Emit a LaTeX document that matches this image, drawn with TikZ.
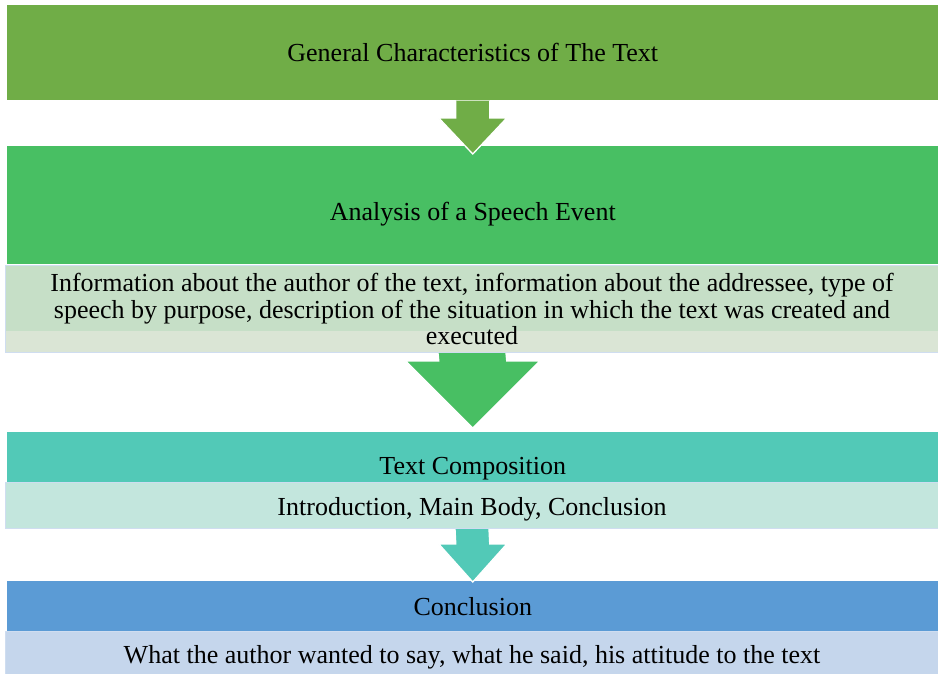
\documentclass[tikz,border=0pt]{standalone}
\usepackage{fontspec}
\setmainfont{Liberation Serif}
\usetikzlibrary{positioning, calc}
\definecolor{charGreen}{HTML}{70AD47}
\definecolor{speechGreen}{HTML}{48BF63}
\definecolor{speechBand}{HTML}{C6DFC7}
\definecolor{speechLight}{HTML}{DAE5D5}
\definecolor{compTeal}{HTML}{52C9B7}
\definecolor{compLight}{HTML}{C3E6DD}
\definecolor{conclBlue}{HTML}{5B9BD5}
\definecolor{conclLight}{HTML}{C5D6EC}
\definecolor{infoBorder}{HTML}{CFDDF0}

% block arrow: colour, from, tip, shaft half width, head half width, head length
\newcommand{\flowarrow}[6]{%
	\fill[#1, draw=white, line width=1pt]
	($(#2)+(-#4,0)$) -- ($(#3)+(-#4,-#6)$) -- ($(#3)+(-#5,-#6)$) -- (#3)
	-- ($(#3)+(#5,-#6)$) -- ($(#3)+(#4,-#6)$) -- ($(#2)+(#4,0)$);
}

\begin{document}
\begin{tikzpicture}[x=0.75pt, y=-0.75pt,
	headbox/.style={inner sep=0pt, anchor=north west, align=center,
		minimum width={931*0.75pt}, font=\fontsize{19.5}{19.9}\selectfont},
	infobox/.style={draw=infoBorder, line width=0.75pt, inner sep=0pt, anchor=north west,
		align=center, minimum width={933*0.75pt}, font=\fontsize{19.5}{19.9}\selectfont}]
	\useasboundingbox (0,0) rectangle (938,674);

	% general characteristics
	\node[headbox, fill=charGreen, minimum height={95*0.75pt}] (char) at (7,5)
		{General Characteristics of The Text};

	% speech event
	\node[headbox, fill=speechGreen, minimum height={118*0.75pt}, text height=27pt] (speech) at (7,146)
		{Analysis of a Speech Event};
	\node[infobox, fill=speechLight, minimum height={87*0.75pt},
		path picture={\fill[speechBand] (path picture bounding box.north west)
			rectangle ([yshift={-65*0.75pt}]path picture bounding box.north east);}] (speechInfo) at (5,265)
		{Information about the author of the text, information about the addressee, type of\\
		 speech by purpose, description of the situation in which the text was created and\\
		 executed};
	\coordinate (tip1) at ($(speech.north)+(0,8)$);
	\flowarrow{charGreen}{char.south}{tip1}{17}{34}{36}

	% composition
	\node[headbox, fill=compTeal, minimum height={50*0.75pt}, text height=30pt] (comp) at (7,432)
		{Text Composition};
	\node[infobox, fill=compLight, minimum height={46*0.75pt}, text height=19pt] (compInfo) at (5,482)
		{Introduction, Main Body, Conclusion};
	\coordinate (tip2) at ($(comp.north)+(0,-4)$);
	\flowarrow{speechGreen}{speechInfo.south}{tip2}{34}{67}{67}

	% conclusion
	\node[headbox, fill=conclBlue, minimum height={50*0.75pt}] (concl) at (7,581)
		{Conclusion};
	\node[infobox, fill=conclLight, minimum height={45*0.75pt}, text height=19pt] (conclInfo) at (5,631)
		{What the author wanted to say, what he said, his attitude to the text};
	\coordinate (tip3) at ($(concl.north)+(0,1)$);
	\flowarrow{compTeal}{compInfo.south}{tip3}{17}{34}{38}
\end{tikzpicture}
\end{document}
